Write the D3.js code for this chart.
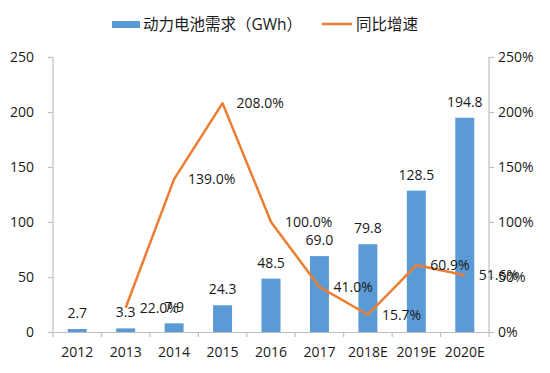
<!DOCTYPE html>
<html><head><meta charset="utf-8">
<script src="https://cdn.jsdelivr.net/npm/d3@7"></script>
<style>body{margin:0;background:#fff}svg{display:block}text{font-family:"Open Sans","Noto Sans CJK SC",sans-serif;fill:#1a1a1a}</style>
</head><body><svg id="c" width="550" height="373"></svg>
<script>
const categories = ["2012","2013","2014","2015","2016","2017","2018E","2019E","2020E"];
const demand = [2.7,3.3,7.9,24.3,48.5,69.0,79.8,128.5,194.8];
const growth = [null,22.0,139.0,208.0,100.0,41.0,15.7,60.9,51.6];
const leftTicks = [0,50,100,150,200,250];
const rightTicks = [0,50,100,150,200,250];
const seriesNames = ["动力电池需求（GWh）","同比增速"];

const svg = d3.select("#c");
const m = {l:53, r:489, t:57, b:332};
const x = d3.scaleBand().domain(categories).range([m.l, m.r]).paddingInner(0).paddingOuter(0);
const yL = d3.scaleLinear().domain([0,250]).range([m.b, m.t]);
const yR = d3.scaleLinear().domain([0,250]).range([m.b, m.t]);
const axisColor = "#bfbfbf";
const fs = 14;

// left axis
const gl = svg.append("g").attr("transform",`translate(${m.l},0)`)
  .call(d3.axisLeft(yL).tickValues(leftTicks).tickSize(5).tickPadding(14).tickFormat(d3.format("d")));
// right axis
const gr = svg.append("g").attr("transform",`translate(${m.r},0)`)
  .call(d3.axisRight(yR).tickValues(rightTicks).tickSize(5).tickPadding(4).tickFormat(d=>d+"%"));
// bottom axis
const gb = svg.append("g").attr("transform",`translate(0,${m.b})`)
  .call(d3.axisBottom(x).tickSize(0).tickPadding(15));
[gl,gr,gb].forEach(g=>{
  g.select(".domain").attr("stroke",axisColor).attr("stroke-width",1.2);
  g.selectAll(".tick line").attr("stroke",axisColor).attr("stroke-width",1.2);
  g.selectAll("text").attr("font-size",fs).attr("fill","#1a1a1a").attr("font-family",'"Open Sans",sans-serif');
});
gl.select(".domain").attr("d",`M0,${m.b}V${m.t}`);
gr.select(".domain").attr("d",`M0,${m.b}V${m.t}`);
// band boundary ticks on x axis
const bounds = categories.map(c=>x(c)).concat([m.r]);
gb.selectAll(".bt").data(bounds).enter().append("line")
  .attr("x1",d=>d).attr("x2",d=>d).attr("y1",0).attr("y2",5)
  .attr("stroke",axisColor).attr("stroke-width",1.2);

// bars
const bw = 19;
svg.append("g").selectAll("rect").data(demand).enter().append("rect")
  .attr("x",(d,i)=>x(categories[i])+x.bandwidth()/2-bw/2)
  .attr("y",d=>yL(d)).attr("width",bw).attr("height",d=>yL(0)-yL(d))
  .attr("fill","#5b9bd5");
svg.append("g").selectAll("text").data(demand).enter().append("text")
  .attr("x",(d,i)=>x(categories[i])+x.bandwidth()/2)
  .attr("y",d=>yL(d)-11).attr("text-anchor","middle").attr("font-size",fs)
  .text(d=>d.toFixed(1));

// line
const pts = growth.map((g,i)=>({g,c:categories[i]})).filter(p=>p.g!==null);
const line = d3.line().x(p=>x(p.c)+x.bandwidth()/2).y(p=>yR(p.g));
svg.append("path").datum(pts).attr("d",line).attr("fill","none")
  .attr("stroke","#ed7d31").attr("stroke-width",2.5).attr("stroke-linejoin","round");
svg.append("g").selectAll("text").data(pts).enter().append("text")
  .attr("x",p=>x(p.c)+x.bandwidth()/2+14).attr("y",p=>yR(p.g)+5)
  .attr("font-size",fs).text(p=>p.g.toFixed(1)+"%");

// legend
const lg = svg.append("g");
lg.append("rect").attr("x",112).attr("y",21).attr("width",28).attr("height",7).attr("fill","#5b9bd5");
lg.append("text").attr("x",143).attr("y",30).attr("font-size",15.5).attr("font-family",'"Noto Sans CJK SC",sans-serif').text(seriesNames[0]);
lg.append("line").attr("x1",322).attr("x2",352).attr("y1",24).attr("y2",24).attr("stroke","#ed7d31").attr("stroke-width",2.5);
lg.append("text").attr("x",356).attr("y",30).attr("font-size",15.5).attr("font-family",'"Noto Sans CJK SC",sans-serif').text(seriesNames[1]);
</script></body></html>
